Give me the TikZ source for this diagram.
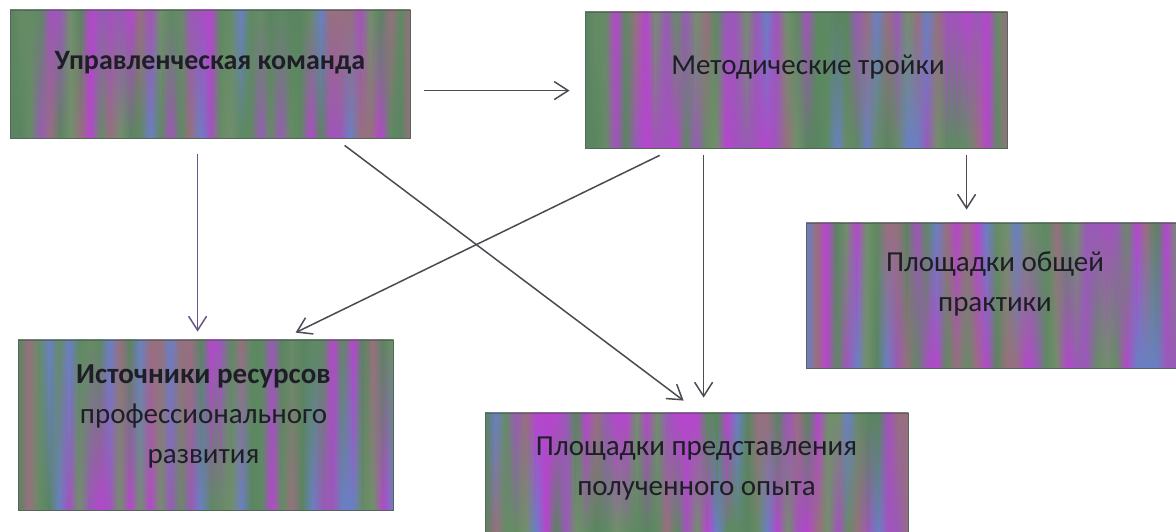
\documentclass[tikz,border=0pt]{standalone}
\usepackage{fontspec}
\setmainfont{Carlito}
\usetikzlibrary{arrows.meta,calc,fadings}

% palette of the streaked box fills (greens dominate)
\definecolor{pal1}{HTML}{5E8A62}
\definecolor{pal2}{HTML}{72906C}
\definecolor{pal3}{HTML}{668C66}
\definecolor{pal4}{HTML}{5A8560}
\definecolor{pal5}{HTML}{A452BE}
\definecolor{pal6}{HTML}{9A5AB8}
\definecolor{pal7}{HTML}{6A80C4}
\definecolor{pal8}{HTML}{97707F}
\definecolor{pal9}{HTML}{B646CE}
\definecolor{edgec}{HTML}{56665C}
\definecolor{linec}{HTML}{4C4A52}
\definecolor{linep}{HTML}{6A5488}
\definecolor{textc}{HTML}{1E1E26}

% opaque at the top, clear at the bottom
\tikzfading[name=fadedown, top color=transparent!0, bottom color=transparent!100]

% vertical colour bands: x1, y1, x2, y2, seed, extra options
\newcommand\bandfill[6]{%
  \pgfmathsetseed{#5}%
  \pgfmathtruncatemacro\bandn{(#3-#1)/10}%
  \pgfmathsetmacro\bandw{(#3-#1)/\bandn}%
  \pgfmathrandominteger{\bandc}{1}{9}\xdef\bandprev{\bandc}%
  \foreach \i in {1,...,\bandn}{%
    \pgfmathrandominteger{\bandc}{1}{9}%
    \pgfmathsetmacro\bxa{#1+(\i-1)*\bandw}%
    \pgfmathsetmacro\bxb{#1+\i*\bandw+0.6}%
    \shade[left color=pal\bandprev, right color=pal\bandc, #6] (\bxa,#2) rectangle (\bxb,#4);
    \xdef\bandprev{\bandc}%
  }%
}
\newcommand\streakbox[6]{%
  \bandfill{#1}{#2}{#3}{#4}{#5}{}%
  \bandfill{#1}{#2}{#3}{#4}{#6}{path fading=fadedown}%
}

\begin{document}
\begin{tikzpicture}[x=1pt,y=-1pt,
  box/.style={draw=edgec, line width=0.8pt, rectangle, inner sep=0pt},
  lbl/.style={align=center, text=textc, inner sep=0pt,
    font=\fontsize{29}{40}\selectfont},
  arr/.style={draw=linec, line width=1.5pt,
    -{Straight Barb[length=14pt,width=18pt,line width=1.5pt]}}]
\useasboundingbox (0,0) rectangle (1176,531);
\fill[white] (0,0) rectangle (1176,531);

% streaked fills
\streakbox{10}{10}{410}{138}{11}{71}
\streakbox{585}{12}{1007}{148}{23}{83}
\streakbox{806}{223}{1176}{368}{37}{97}
\streakbox{18}{340}{393}{510}{41}{101}
\streakbox{485}{413}{908}{531}{53}{113}

% boxes
\node[box, minimum width=400pt, minimum height=128pt] (b1) at (210,74) {};
\node[box, minimum width=422pt, minimum height=136pt] (b2) at (796,80) {};
\node[box, minimum width=370pt, minimum height=145pt] (b3) at (991,295.5) {};
\node[box, minimum width=375pt, minimum height=170pt] (b4) at (205.5,425) {};
\node[box, minimum width=423pt, minimum height=120pt] (b5) at (696.5,473) {};

% labels
\node[lbl, font=\fontsize{28}{40}\selectfont\bfseries] (t1) at ($(b1.center)+(0,-11)$) {Управленческая команда};
\node[lbl] (t2) at ($(b2.center)+(12,-13)$) {Методические тройки};
\node[lbl] (t3) at ($(b3.center)+(4,-12)$) {Площадки общей\\практики};
\node[lbl] (t4) at ($(b4.center)+(-2,-9)$) {\textbf{Источники ресурсов}\\профессионального\\развития};
\node[lbl] (t5) at ($(b5.center)+(0,-4)$) {Площадки представления\\полученного опыта};

% connectors
\draw[arr] ($(b1.north east)+(14,81)$) -- ($(b2.north west)+(-15,79)$);
\draw[arr, draw=linep] ($(b1.south west)+(188,16)$) -- ($(b4.north west)+(180,-8)$);
\draw[arr] ($(b1.south west)+(335,7)$) -- ($(b5.north west)+(199,-12)$);
\draw[arr] ($(b2.south west)+(75,7)$) -- ($(b4.north west)+(278,-7)$);
\draw[arr] ($(b2.south west)+(119,7)$) -- ($(b5.north west)+(219,-15)$);
\draw[arr] ($(b2.south west)+(382,7)$) -- ($(b3.north west)+(161,-13)$);
\end{tikzpicture}
\end{document}
